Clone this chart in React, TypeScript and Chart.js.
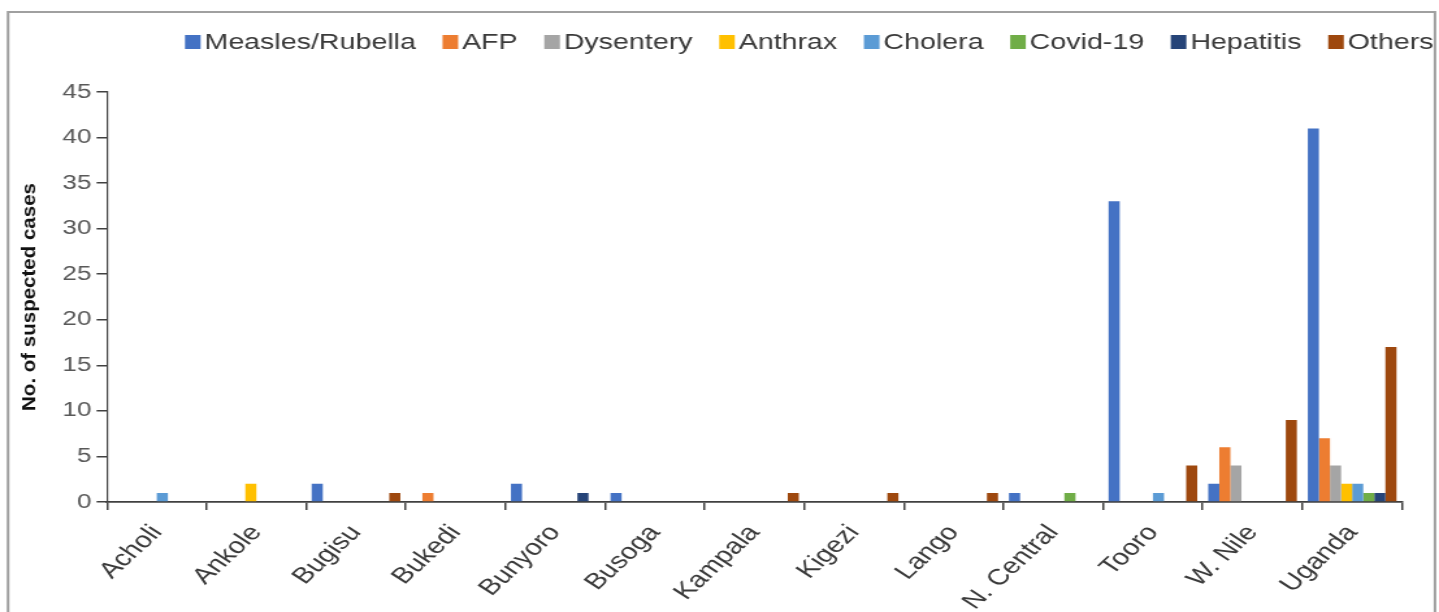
import React, { useEffect, useRef } from 'react';
import { Chart, registerables } from 'chart.js';

Chart.register(...registerables);

// ---- data ----
const categories = ['Acholi', 'Ankole', 'Bugisu', 'Bukedi', 'Bunyoro', 'Busoga', 'Kampala', 'Kigezi', 'Lango', 'N. Central', 'Tooro', 'W. Nile', 'Uganda'];
const seriesNames = ['Measles/Rubella', 'AFP', 'Dysentery', 'Anthrax', 'Cholera', 'Covid-19', 'Hepatitis', 'Others'];
const seriesColors = ['#4472C4', '#ED7D31', '#A5A5A5', '#FFC000', '#5B9BD5', '#70AD47', '#264478', '#9E480E'];
const measles = [0, 0, 2, 0, 2, 1, 0, 0, 0, 1, 33, 2, 41];
const afp = [0, 0, 0, 1, 0, 0, 0, 0, 0, 0, 0, 6, 7];
const dysentery = [0, 0, 0, 0, 0, 0, 0, 0, 0, 0, 0, 4, 4];
const anthrax = [0, 2, 0, 0, 0, 0, 0, 0, 0, 0, 0, 0, 2];
const cholera = [1, 0, 0, 0, 0, 0, 0, 0, 0, 0, 1, 0, 2];
const covid = [0, 0, 0, 0, 0, 0, 0, 0, 0, 1, 0, 0, 1];
const hepatitis = [0, 0, 0, 0, 1, 0, 0, 0, 0, 0, 0, 0, 1];
const others = [0, 0, 1, 0, 0, 0, 1, 1, 1, 0, 4, 9, 17];
const seriesValues = [measles, afp, dysentery, anthrax, cholera, covid, hepatitis, others];
const yMin = 0;
const yMax = 45;
const yStep = 5;
const yTitle = 'No. of suspected cases';

// ---- layout ----
const VIEW_W = 1439;
const VIEW_H = 612;
const STRETCH = 1.3; // the reference is stretched horizontally
const W = Math.round(VIEW_W / STRETCH);
const FONT = '"Liberation Sans", Arial, sans-serif';

const framePlugin = {
  id: 'frame',
  beforeDraw(chart: any) {
    const { ctx } = chart;
    ctx.save();
    ctx.fillStyle = '#ffffff';
    ctx.fillRect(0, 0, chart.width, chart.height);
    ctx.restore();
  },
  afterDraw(chart: any) {
    const { ctx } = chart;
    ctx.save();
    ctx.strokeStyle = '#a0a0a0';
    ctx.lineWidth = 2;
    ctx.strokeRect(6.2, 12, 1097.7, 700);
    ctx.restore();
  },
};

const legendPlugin = {
  id: 'customLegend',
  afterDraw(chart: any) {
    const { ctx } = chart;
    ctx.save();
    ctx.font = `22px ${FONT}`;
    ctx.textBaseline = 'middle';
    ctx.textAlign = 'left';
    let x = 142.3;
    const y = 42;
    chart.data.datasets.forEach((ds: any) => {
      ctx.fillStyle = ds.backgroundColor;
      ctx.fillRect(x, y - 7, 12, 14);
      x += 15;
      ctx.fillStyle = '#3a3a3a';
      ctx.fillText(ds.label, x, y + 1);
      x += ctx.measureText(ds.label).width + 20.5;
    });
    ctx.restore();
  },
};

const yTitlePlugin = {
  id: 'yTitle',
  afterDraw(chart: any) {
    const { ctx, chartArea } = chart;
    ctx.save();
    ctx.translate(23, (chartArea.top + chartArea.bottom) / 2);
    ctx.rotate(-Math.PI / 2);
    ctx.scale(1, 0.75);
    ctx.font = `bold 20.5px ${FONT}`;
    ctx.textAlign = 'center';
    ctx.textBaseline = 'middle';
    ctx.fillStyle = '#111111';
    ctx.fillText(yTitle, 0, 0);
    ctx.restore();
  },
};

export default function App() {
  const canvasRef = useRef<HTMLCanvasElement | null>(null);

  useEffect(() => {
    if (!canvasRef.current) return;
    const chart = new Chart(canvasRef.current, {
      type: 'bar',
      data: {
        labels: categories,
        datasets: seriesNames.map((name, i) => ({
          label: name,
          data: seriesValues[i],
          backgroundColor: seriesColors[i],
          borderWidth: 0,
          categoryPercentage: 0.89,
          barPercentage: 1.0,
        })),
      },
      options: {
        responsive: false,
        animation: false,
        devicePixelRatio: 1,
        layout: { padding: { left: 0, right: W - 1078.5, top: 92, bottom: 0 } },
        plugins: {
          legend: { display: false },
          tooltip: { enabled: false },
          title: { display: false },
        },
        scales: {
          x: {
            offset: true,
            ticks: {
              autoSkip: false,
              minRotation: 50,
              maxRotation: 50,
              color: '#3a3a3a',
              font: { family: FONT, size: 22.5 },
              padding: 10,
            },
            grid: {
              display: true,
              offset: true,
              drawOnChartArea: false,
              drawTicks: true,
              tickLength: 8,
              color: '#404040',
              lineWidth: 1.5,
            },
            border: { display: true, color: '#404040', width: 1.8 },
            afterFit: (s: any) => {
              s.height = 110;
            },
          },
          y: {
            min: yMin,
            max: yMax,
            ticks: {
              stepSize: yStep,
              color: '#595959',
              font: { family: FONT, size: 20 },
              padding: 4,
            },
            grid: {
              display: true,
              drawOnChartArea: false,
              drawTicks: true,
              tickLength: 8,
              color: '#404040',
              lineWidth: 1.5,
            },
            border: { display: true, color: '#404040', width: 1.2 },
            afterFit: (s: any) => {
              s.width = 82.3;
            },
          },
        },
      },
      plugins: [framePlugin, legendPlugin, yTitlePlugin],
    });
    return () => chart.destroy();
  }, []);

  return (
    <canvas
      ref={canvasRef}
      width={W}
      height={VIEW_H}
      style={{ position: 'fixed', left: 0, top: 0, width: `${VIEW_W}px`, height: `${VIEW_H}px`, display: 'block' }}
    />
  );
}
